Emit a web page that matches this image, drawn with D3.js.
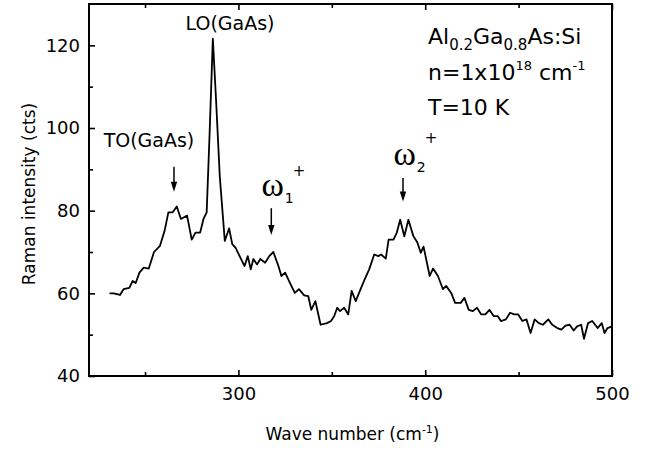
<!DOCTYPE html>
<html>
<head>
<meta charset="utf-8">
<script src="https://cdnjs.cloudflare.com/ajax/libs/d3/7.8.5/d3.min.js"></script>
<style>
html,body{margin:0;padding:0;background:#fff;}
svg{display:block;}
text{font-family:"DejaVu Sans",sans-serif;fill:#000;}
</style>
</head>
<body>
<svg id="chart" width="648" height="451"></svg>
<script>
// ---- data ----
const waveNumbers = [231,233.3,236.6,238.5,241.6,243.4,245,247,249.3,252,254.8,258,260.4,262.5,264.8,267,269.2,272.5,275,277,279.5,281.3,283,284.6,286.3,288,290,292.7,295,296.7,298.5,301.5,303.3,305,306.6,308,310,311.7,314.3,316.5,318.7,321.4,323,325,327.5,330.2,332.4,335.2,337.4,339,341.2,344,347.4,349.6,351.3,352.9,354.4,356.6,358.8,360.6,362.8,365.4,367.6,370,372.7,374.9,376.4,378.9,380.4,383,384.8,386.6,388.8,391,393.6,395.8,397.6,399.1,402.4,404.2,406.8,409.5,411.2,413.9,416,419,421,423.3,425.5,427.7,430,432.2,434.4,436.6,438.8,440.5,443.2,445.4,447.6,449.8,452,454.2,456.4,458.6,460.8,463,465.9,468,470.7,472.9,475.1,477.3,479.5,481.3,483.5,485,487.2,489.4,492.3,494.5,496,497.6,500];
const intensities = [60,60,59.6,61,61.3,63,62.5,65,66.2,66,70,71.5,75,79.6,79.6,81,78,78.8,73,74.7,74.7,78,79.6,99,121.6,107,88.4,72.7,75.7,71.9,71,68.2,66.6,69,65.8,68.3,67,68.3,67.4,69,70,66.6,64.2,65,62.6,60.1,61,59.5,59.3,56,58.1,52.4,52.8,53.3,54.5,56.5,55.7,56.5,54.9,60.6,58.1,61,63.4,65.8,69.4,69,69.4,68.4,73,73,74.7,77.8,73.8,77.8,73.9,72.3,69.8,71.3,64.2,66,64.2,61,61.8,60.1,57.7,57.7,58.9,56,55.7,56.5,54.9,54.9,56,54.5,54.5,53.3,53.7,55.3,54.9,54.9,53.3,53.7,50.4,53.7,52.8,52.4,53.7,52.4,51.6,51.2,52.2,52.4,51,52,52.4,49,52.8,53.3,51.6,52.8,50.4,51.6,52];

const xDomain = [220, 500];
const yDomain = [40, 130];
const xMajorTicks = [300, 400, 500];
const xMinorTicks = [250, 350, 450];
const yMajorTicks = [40, 60, 80, 100, 120];
const yMinorTicks = [50, 70, 90, 110];

// annotation anchors in data units
const arrows = [ {x:265.5, y0:90.6, y1:84.6}, {x:317.6, y0:80.6, y1:74.1}, {x:388.1, y0:87.9, y1:82.2} ];

// ---- layout ----
const svg = d3.select("#chart");
const L = 89, R = 612, T = 4, B = 376;
const x = d3.scaleLinear().domain(xDomain).range([L, R]);
const y = d3.scaleLinear().domain(yDomain).range([B, T]);

// bottom axis
svg.append("g").attr("transform", `translate(0,${B})`)
  .call(d3.axisBottom(x).tickValues(xMajorTicks).tickSizeInner(-6).tickSizeOuter(0).tickPadding(11).tickFormat(d3.format("d")));
svg.append("g").attr("transform", `translate(0,${B})`)
  .call(d3.axisBottom(x).tickValues(xMinorTicks).tickSizeInner(-4).tickSizeOuter(0).tickFormat(""));
// top axis
svg.append("g").attr("transform", `translate(0,${T})`)
  .call(d3.axisTop(x).tickValues(xMajorTicks).tickSizeInner(-6).tickSizeOuter(0).tickFormat(""));
svg.append("g").attr("transform", `translate(0,${T})`)
  .call(d3.axisTop(x).tickValues(xMinorTicks).tickSizeInner(-4).tickSizeOuter(0).tickFormat(""));
// left axis
svg.append("g").attr("transform", `translate(${L},0)`)
  .call(d3.axisLeft(y).tickValues(yMajorTicks).tickSizeInner(-6).tickSizeOuter(0).tickPadding(9).tickFormat(d3.format("d")));
svg.append("g").attr("transform", `translate(${L},0)`)
  .call(d3.axisLeft(y).tickValues(yMinorTicks).tickSizeInner(-4).tickSizeOuter(0).tickFormat(""));

svg.selectAll(".domain").remove();
svg.selectAll(".tick line").attr("stroke", "#000").attr("stroke-width", 1.6);
svg.selectAll(".tick text").attr("font-size", 18).attr("font-family", "DejaVu Sans");

// frame
svg.append("rect").attr("x", L).attr("y", T).attr("width", R - L).attr("height", B - T)
  .attr("fill", "none").attr("stroke", "#000").attr("stroke-width", 2);

// curve
const line = d3.line().x((d, i) => x(waveNumbers[i])).y(d => y(d));
svg.append("path").datum(intensities).attr("d", line)
  .attr("fill", "none").attr("stroke", "#000").attr("stroke-width", 1.8).attr("stroke-linejoin", "round");

// axis titles
const xt = svg.append("text").attr("x", (L + R) / 2 + 2).attr("y", 440).attr("text-anchor", "middle").attr("font-size", 17);
xt.append("tspan").text("Wave number (cm");
xt.append("tspan").attr("font-size", 11).attr("dy", -7).text("-1");
xt.append("tspan").attr("dy", 7).text(")");

svg.append("text").attr("transform", "translate(35,194) rotate(-90)").attr("text-anchor", "middle")
  .attr("font-size", 17).text("Raman intensity (cts)");

// peak labels
svg.append("text").attr("x", x(295.5)).attr("y", y(123.7)).attr("text-anchor", "middle").attr("font-size", 19).text("LO(GaAs)");
svg.append("text").attr("x", x(252.1)).attr("y", y(95.4)).attr("text-anchor", "middle").attr("font-size", 19).text("TO(GaAs)");

// arrows
arrows.forEach(a => {
  const xx = x(a.x), ya = y(a.y0), yb = y(a.y1);
  svg.append("line").attr("x1", xx).attr("x2", xx).attr("y1", ya).attr("y2", yb - 6)
    .attr("stroke", "#000").attr("stroke-width", 1.5);
  svg.append("path").attr("d", `M${xx - 3.2},${yb - 10}L${xx + 3.2},${yb - 10}L${xx},${yb}Z`).attr("fill", "#000");
});

// omega labels (one text element each: ω, subscript, superscript +)
function omega(wx, wy, sub, plusDy) {
  const t = svg.append("text").attr("x", x(wx)).attr("y", y(wy));
  t.append("tspan").attr("font-family", "Liberation Serif").attr("font-size", 34).text("ω");
  t.append("tspan").attr("font-size", 14).attr("dx", 1).attr("dy", 7).text(sub);
  t.append("tspan").attr("font-size", 15).attr("dx", -1).attr("dy", plusDy - 7).text("+");
}
omega(312.3, 83.6, "1", -20);
omega(383.0, 91.0, "2", -22);

// sample info
const info = svg.append("g").attr("font-size", 22);
const t1 = info.append("text").attr("x", 428).attr("y", 44);
t1.append("tspan").text("Al");
t1.append("tspan").attr("font-size", 15).attr("dy", 6).text("0.2");
t1.append("tspan").attr("dy", -6).text("Ga");
t1.append("tspan").attr("font-size", 15).attr("dy", 6).text("0.8");
t1.append("tspan").attr("dy", -6).text("As:Si");
const t2 = info.append("text").attr("x", 428).attr("y", 80);
t2.append("tspan").text("n=1x10");
t2.append("tspan").attr("font-size", 13).attr("dy", -10).text("18");
t2.append("tspan").attr("dy", 10).text(" cm");
t2.append("tspan").attr("font-size", 13).attr("dy", -10).text("-1");
info.append("text").attr("x", 428).attr("y", 115).text("T=10 K");
</script>
</body>
</html>
